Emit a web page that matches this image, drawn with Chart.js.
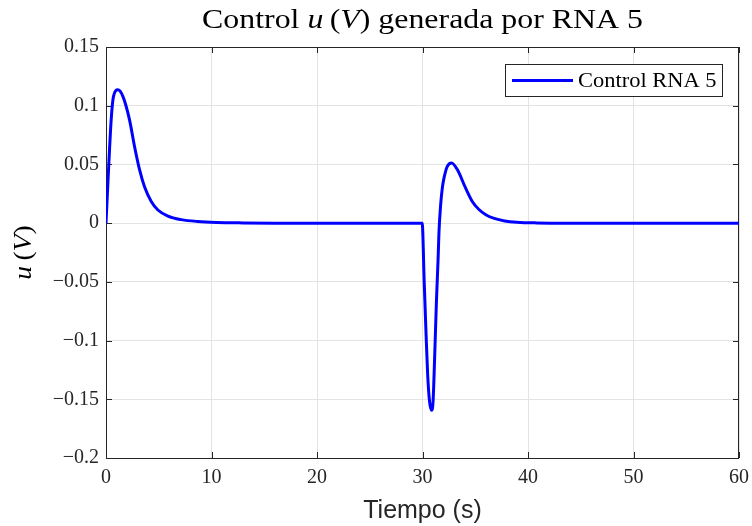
<!DOCTYPE html>
<html>
<head>
<meta charset="utf-8">
<script src="https://cdn.jsdelivr.net/npm/chart.js@4/dist/chart.umd.min.js"></script>
<style>
  html, body { margin: 0; padding: 0; background: #ffffff; }
  #wrap { width: 752px; height: 526px; }
</style>
</head>
<body>
<div id="wrap"><canvas id="c" width="752" height="526"></canvas></div>
<script>
// Control signal u(V) from network RNA 5, sampled over time (s)
const tiempo = [
  0, 0.27, 0.49, 0.71, 1.12, 1.6, 2.23, 2.7, 3.18, 3.65, 4.29, 4.92, 5.87, 7.13, 8.7, 10.5, 13, 16,
  29.97, 30.16, 30.33, 30.49, 30.67, 30.86, 31.0, 31.16, 31.32, 31.48, 31.56, 31.72, 31.88, 32.04,
  32.35, 32.76, 33.3, 34.08, 34.72, 35.35, 36.0, 36.8, 37.8, 38.94, 40.8, 44, 60
];
const controlRNA5 = [
  0, 0.051, 0.088, 0.108, 0.1135, 0.108, 0.088, 0.0655, 0.0455, 0.031, 0.0185, 0.0112, 0.006, 0.003, 0.0014, 0.0006, 0.0002, 0,
  0, -0.0497, -0.0925, -0.129, -0.152, -0.1594, -0.152, -0.112, -0.0668, -0.030, -0.008, 0.0156, 0.030, 0.0385,
  0.0484, 0.0513, 0.0456, 0.030, 0.0185, 0.0116, 0.0072, 0.0040, 0.0019, 0.0008, 0.0002, 0, 0
];
const xTicks = [0, 10, 20, 30, 40, 50, 60];
const yTicks = [-0.2, -0.15, -0.1, -0.05, 0, 0.05, 0.1, 0.15];
const serieNombre = 'Control RNA 5';

const AXIS = '#262626';
const SERIF = '"Liberation Serif", "Times New Roman", serif';

function fmt(v) {
  const s = String(parseFloat(v.toFixed(3)));
  return s.replace('-', '\u2212');
}

// Draws a run of upright/italic pieces, horizontally stretched, centred on cx
function drawRich(ctx, parts, size, cx, y, stretch) {
  let total = 0;
  parts.forEach(p => {
    ctx.font = (p[1] ? 'italic ' : '') + size + 'px ' + SERIF;
    total += ctx.measureText(p[0]).width;
  });
  ctx.save();
  ctx.translate(cx, y);
  ctx.scale(stretch, 1);
  let x = -total / 2;
  parts.forEach(p => {
    ctx.font = (p[1] ? 'italic ' : '') + size + 'px ' + SERIF;
    ctx.fillText(p[0], x, 0);
    x += ctx.measureText(p[0]).width;
  });
  ctx.restore();
}

// Frame, inward tick marks, title, y label and legend
const decor = {
  id: 'decor',
  beforeDatasetsDraw(chart) {
    const { ctx, chartArea: a } = chart;
    ctx.save();
    ctx.strokeStyle = AXIS;
    ctx.lineWidth = 1;
    ctx.strokeRect(a.left + 0.5, a.top + 0.5, a.right - a.left - 1, a.bottom - a.top);
    const L = 6;
    const xs = chart.scales.x, ys = chart.scales.y;
    ctx.beginPath();
    xTicks.forEach(t => {
      const px = Math.round(xs.getPixelForValue(t)) + 0.5;
      ctx.moveTo(px, a.bottom); ctx.lineTo(px, a.bottom - L);
      ctx.moveTo(px, a.top); ctx.lineTo(px, a.top + L);
    });
    yTicks.forEach(t => {
      const py = Math.round(ys.getPixelForValue(t)) + 0.5;
      ctx.moveTo(a.left, py); ctx.lineTo(a.left + L, py);
      ctx.moveTo(a.right, py); ctx.lineTo(a.right - L, py);
    });
    ctx.stroke();
    ctx.restore();
  },
  afterDraw(chart) {
    const { ctx, chartArea: a } = chart;
    ctx.save();
    ctx.fillStyle = '#000';
    ctx.textBaseline = 'alphabetic';
    ctx.textAlign = 'left';
    // Title with italic math pieces
    drawRich(ctx, [
      ['Control ', false], ['u', true], ['\u2009(', false], ['V', true], [')', false],
      [' generada por RNA 5', false]
    ], 27, (a.left + a.right) / 2, 28, 1.18);

    // Y axis label u (V)
    ctx.save();
    ctx.translate(31, (a.top + a.bottom) / 2);
    ctx.rotate(-Math.PI / 2);
    drawRich(ctx, [['u', true], ['\u2009(', false], ['V', true], [')', false]], 25, 0, 0, 1.1);
    ctx.restore();
    ctx.restore();

    // Legend box
    ctx.save();
    const bx = 505, by = 64, bw = 217, bh = 32;
    ctx.fillStyle = '#ffffff';
    ctx.fillRect(bx, by, bw, bh);
    ctx.strokeStyle = AXIS;
    ctx.lineWidth = 1;
    ctx.strokeRect(bx + 0.5, by + 0.5, bw, bh);
    ctx.strokeStyle = '#0000ff';
    ctx.lineWidth = 3;
    ctx.beginPath();
    ctx.moveTo(512, by + bh / 2 + 0.5);
    ctx.lineTo(573, by + bh / 2 + 0.5);
    ctx.stroke();
    ctx.fillStyle = '#000';
    ctx.font = '21px ' + SERIF;
    ctx.textBaseline = 'middle';
    ctx.textAlign = 'left';
    ctx.translate(578, by + bh / 2 + 1);
    ctx.scale(1.07, 1);
    ctx.fillText(chart.data.datasets[0].label, 0, 0);
    ctx.restore();
  }
};

new Chart(document.getElementById('c'), {
  type: 'line',
  data: {
    datasets: [{
      label: serieNombre,
      data: tiempo.map((t, i) => ({ x: t, y: controlRNA5[i] })),
      borderColor: '#0000ff',
      borderWidth: 3,
      pointRadius: 0,
      fill: false,
      cubicInterpolationMode: 'monotone'
    }]
  },
  options: {
    responsive: false,
    animation: false,
    events: [],
    layout: { padding: { left: 0, right: 13, top: 47, bottom: 0 } },
    plugins: { legend: { display: false }, title: { display: false }, tooltip: { enabled: false } },
    scales: {
      x: {
        type: 'linear',
        min: 0, max: 60,
        afterFit(s) { s.height = 68; s.paddingLeft = 0; s.paddingRight = 0; },
        afterBuildTicks(s) { s.ticks = xTicks.map(v => ({ value: v })); },
        grid: { color: '#e3e3e3', drawTicks: false },
        border: { display: false },
        ticks: {
          padding: 8,
          color: AXIS,
          font: { family: SERIF, size: 20 },
          maxRotation: 0,
          callback: v => fmt(v)
        },
        title: {
          display: true,
          text: 'Tiempo (s)',
          color: AXIS,
          font: { family: '"Liberation Sans", Arial, sans-serif', size: 25 },
          padding: { top: 6, bottom: 0 }
        }
      },
      y: {
        type: 'linear',
        min: -0.2, max: 0.15,
        afterFit(s) { s.width = 106; s.paddingTop = 0; s.paddingBottom = 0; },
        afterBuildTicks(s) { s.ticks = yTicks.map(v => ({ value: v })); },
        grid: { color: '#e3e3e3', drawTicks: false },
        border: { display: false },
        ticks: {
          padding: 7,
          color: AXIS,
          font: { family: SERIF, size: 20 },
          callback: v => fmt(v)
        }
      }
    }
  },
  plugins: [decor]
});
</script>
</body>
</html>
